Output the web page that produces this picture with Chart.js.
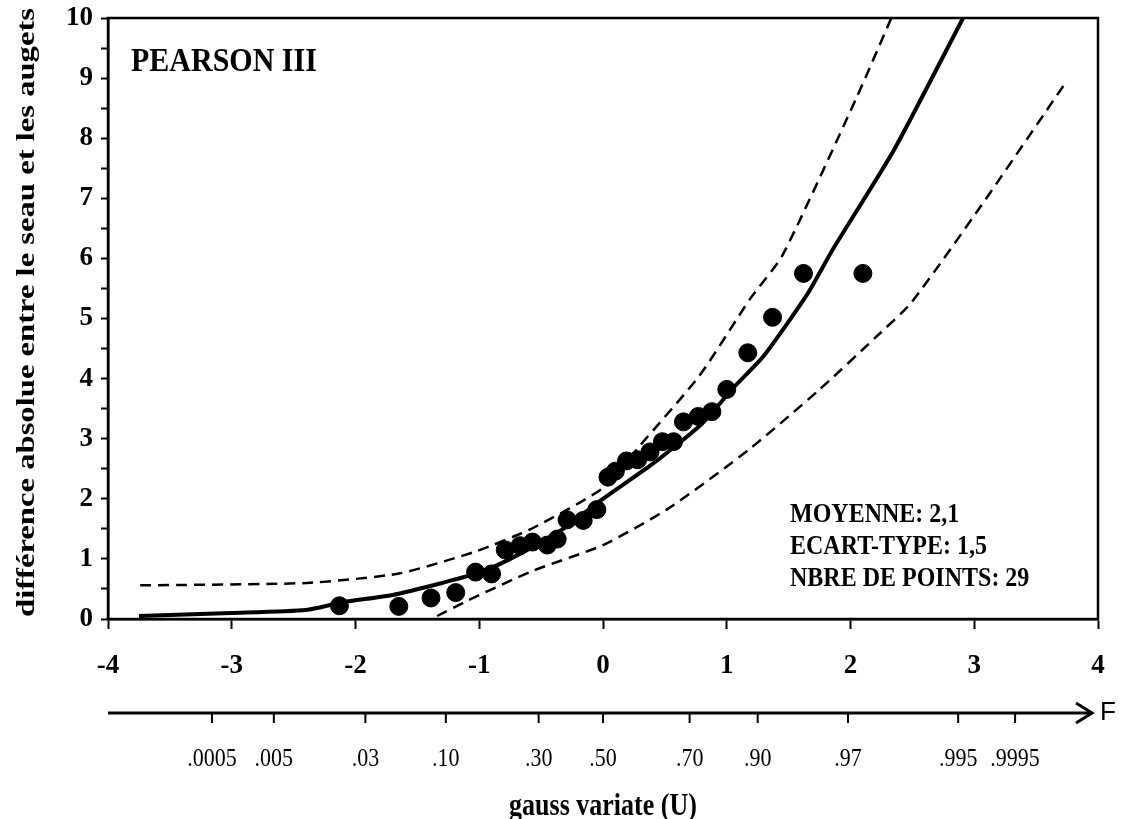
<!DOCTYPE html>
<html>
<head>
<meta charset="utf-8">
<script src="https://cdn.jsdelivr.net/npm/chart.js@4.4.1/dist/chart.umd.min.js"></script>
<style>
  html, body { margin: 0; padding: 0; background: #fff; }
  #wrap { width: 1139px; height: 819px; position: relative; }
</style>
</head>
<body>
<div id="wrap"><canvas id="chart"></canvas></div>
<script>
// observed points (gauss variate U, absolute difference)
const obsU = [-2.13, -1.65, -1.39, -1.19, -1.03, -0.90, -0.79, -0.67, -0.57, -0.45, -0.37, -0.29, -0.16, -0.05,
  0.04, 0.10, 0.19, 0.28, 0.38, 0.48, 0.57, 0.65, 0.77, 0.88, 1.00, 1.17, 1.37, 1.62, 2.10];
const obsDiff = [0.22, 0.21, 0.35, 0.44, 0.78, 0.75, 1.15, 1.22, 1.28, 1.23, 1.33, 1.65, 1.64, 1.82,
  2.36, 2.46, 2.63, 2.65, 2.78, 2.95, 2.95, 3.28, 3.37, 3.45, 3.82, 4.43, 5.02, 5.75, 5.75];

// fitted Pearson III curve
const fitU = [-3.75, -3.0, -2.4, -2.1, -1.7, -1.3, -1.0, -0.75, -0.35, 0, 0.4, 0.8, 1.05, 1.3, 1.65, 1.86, 2.35, 2.91];
const fitV = [0.05, 0.10, 0.15, 0.28, 0.40, 0.60, 0.77, 1.00, 1.46, 2.00, 2.58, 3.25, 3.84, 4.38, 5.40, 6.16, 7.80, 10];

// confidence limits
const upU = [-3.74, -2.39, -1.64, -1.02, -0.57, 0, 0.30, 0.78, 1.19, 1.45, 2.05, 2.33];
const upV = [0.56, 0.60, 0.76, 1.13, 1.51, 2.18, 2.89, 4.05, 5.33, 6.05, 8.68, 10];
const lowU = [-1.34, -1.10, -0.57, 0, 0.53, 1.18, 1.74, 2.21, 2.49, 3.05, 3.73];
const lowV = [0.05, 0.30, 0.80, 1.23, 1.84, 2.82, 3.80, 4.70, 5.26, 6.86, 8.90];

// probability scale under the U axis
const probU = [-3.16, -2.66, -1.92, -1.27, -0.52, 0, 0.70, 1.25, 1.98, 2.87, 3.33];
const probLabels = ['.0005', '.005', '.03', '.10', '.30', '.50', '.70', '.90', '.97', '.995', '.9995'];

const statLines = ['MOYENNE: 2,1', 'ECART-TYPE: 1,5', 'NBRE DE POINTS: 29'];
const yTitle = 'différence absolue entre le seau et les augets';

const serif = '"Liberation Serif", "Times New Roman", serif';
const pts = (xs, ys) => xs.map((u, i) => ({ x: u, y: ys[i] }));

// text stretched vertically a bit, like the scanned figure
function tallText(ctx, s, x, y, sy) {
  ctx.save();
  ctx.translate(x, y);
  ctx.scale(1, sy);
  ctx.fillText(s, 0, 0);
  ctx.restore();
}

const extras = {
  id: 'extras',
  afterDraw(chart) {
    const { ctx, chartArea: a, scales: { x } } = chart;
    ctx.save();
    ctx.strokeStyle = '#000';
    ctx.fillStyle = '#000';
    ctx.lineWidth = 2.5;
    ctx.strokeRect(a.left, a.top, a.right - a.left, a.bottom - a.top);

    // y title, rotated and spread over the axis height
    ctx.save();
    ctx.font = 'bold 26px ' + serif;
    ctx.textAlign = 'center';
    ctx.textBaseline = 'middle';
    const w = ctx.measureText(yTitle).width;
    ctx.translate(27, (a.top + a.bottom) / 2 - 6);
    ctx.rotate(-Math.PI / 2);
    ctx.scale((a.bottom - a.top + 8) / w, 1);
    ctx.fillText(yTitle, 0, 0);
    ctx.restore();

    // F axis with arrow
    const ay = 713;
    const x0 = x.getPixelForValue(-4);
    const tip = x.getPixelForValue(4) - 6;
    ctx.lineWidth = 3;
    ctx.beginPath();
    ctx.moveTo(x0, ay);
    ctx.lineTo(tip, ay);
    ctx.stroke();
    ctx.beginPath();
    ctx.moveTo(tip - 16, ay - 10);
    ctx.lineTo(tip, ay);
    ctx.lineTo(tip - 16, ay + 10);
    ctx.stroke();
    ctx.font = '26px "Liberation Sans", Arial, sans-serif';
    ctx.textBaseline = 'middle';
    ctx.textAlign = 'left';
    ctx.fillText('F', tip + 8, ay);

    ctx.lineWidth = 2;
    ctx.font = '22px ' + serif;
    ctx.textAlign = 'center';
    ctx.textBaseline = 'alphabetic';
    probU.forEach((u, i) => {
      const px = x.getPixelForValue(u);
      ctx.beginPath();
      ctx.moveTo(px, ay);
      ctx.lineTo(px, ay + 10);
      ctx.stroke();
      tallText(ctx, probLabels[i], px, 766, 1.15);
    });

    // x title
    ctx.font = 'bold 26px ' + serif;
    tallText(ctx, 'gauss variate (U)', (a.left + a.right) / 2, 815, 1.2);

    // annotations
    ctx.textAlign = 'left';
    ctx.font = 'bold 30px ' + serif;
    tallText(ctx, 'PEARSON III', a.left + 23, 71, 1.15);
    ctx.font = 'bold 24px ' + serif;
    statLines.forEach((s, i) => tallText(ctx, s, 790, 522 + i * 32, 1.12));
    ctx.restore();
  }
};

new Chart(document.getElementById('chart'), {
  type: 'scatter',
  data: {
    datasets: [
      {
        label: 'observations',
        data: pts(obsU, obsDiff),
        backgroundColor: '#000',
        borderColor: '#000',
        pointRadius: 9,
        pointHoverRadius: 9
      },
      {
        label: 'Pearson III',
        type: 'line',
        data: pts(fitU, fitV),
        borderColor: '#000',
        borderWidth: 4,
        pointRadius: 0,
        tension: 0.2,
        fill: false
      },
      {
        label: 'limite haute',
        type: 'line',
        data: pts(upU, upV),
        borderColor: '#000',
        borderWidth: 2.5,
        borderDash: [11, 7],
        pointRadius: 0,
        tension: 0.2,
        fill: false
      },
      {
        label: 'limite basse',
        type: 'line',
        data: pts(lowU, lowV),
        borderColor: '#000',
        borderWidth: 2.5,
        borderDash: [11, 7],
        pointRadius: 0,
        tension: 0.2,
        fill: false
      }
    ]
  },
  options: {
    responsive: true,
    maintainAspectRatio: false,
    animation: false,
    layout: { padding: { left: 0, right: 41, top: 18, bottom: 0 } },
    plugins: { legend: { display: false }, tooltip: { enabled: false } },
    scales: {
      x: {
        type: 'linear',
        min: -4,
        max: 4,
        afterFit: s => { s.height = 200; s.paddingLeft = 0; s.paddingRight = 0; },
        ticks: {
          stepSize: 1,
          color: '#000',
          padding: 21,
          font: { family: serif, size: 27, weight: 'bold' }
        },
        grid: { drawOnChartArea: false, drawTicks: true, tickLength: 10, tickWidth: 2, tickColor: '#000' },
        border: { display: true, color: '#000', width: 2.5 }
      },
      y: {
        type: 'linear',
        min: 0,
        max: 10,
        afterFit: s => { s.width = 108; s.paddingTop = 0; s.paddingBottom = 0; },
        ticks: {
          stepSize: 0.5,
          color: '#000',
          padding: 8,
          autoSkip: false,
          font: { family: serif, size: 27, weight: 'bold' },
          callback: v => Number.isInteger(v) ? String(v) : ''
        },
        grid: { drawOnChartArea: false, drawTicks: true, tickLength: 7, tickWidth: 2, tickColor: '#000' },
        border: { display: true, color: '#000', width: 2.5 }
      }
    }
  },
  plugins: [extras]
});
</script>
</body>
</html>
